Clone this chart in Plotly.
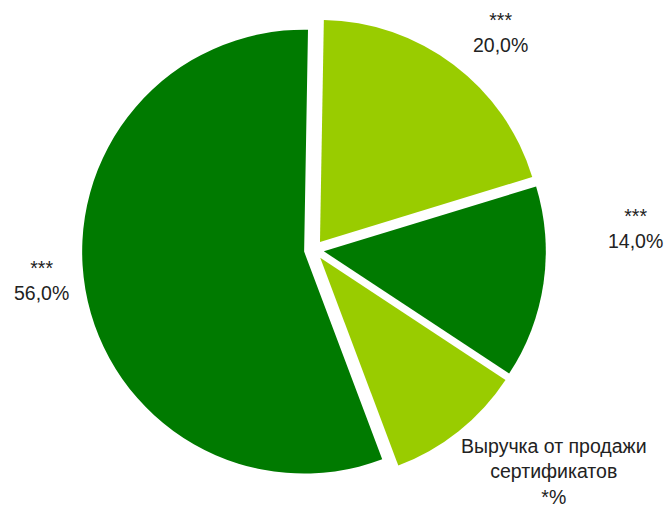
import plotly.graph_objects as go

# Revenue structure shares, clockwise from the top
labels = ["***", "***", "Выручка от продажи сертификатов", "***"]
values = [20.0, 14.0, 10.0, 56.0]
label_texts = ["***<br>20,0%", "***<br>14,0%",
               "Выручка от продажи<br>сертификатов<br>*%", "***<br>56,0%"]
colors = ["#99CC00", "#007A00", "#99CC00", "#007A00"]

fig = go.Figure()
fig.add_trace(go.Pie(
    labels=["a", "b", "c", "d"],
    values=values,
    sort=False,
    direction="clockwise",
    rotation=1,
    pull=[0.045] * len(values),
    marker=dict(colors=colors, line=dict(color="white", width=0)),
    textinfo="none",
    hoverinfo="skip",
    showlegend=False,
    domain=dict(x=[0.1226, 0.816], y=[0.055, 0.965]),
))

# label positions in pixel space (x, y from top)
label_pos = [(500, 33), (635, 229), (554, 471), (41, 280)]
W, H = 669, 510
for txt, (px, py) in zip(label_texts, label_pos):
    fig.add_annotation(
        x=px / W, y=1 - py / H, xref="paper", yref="paper",
        text=txt, showarrow=False, align="center",
        xanchor="center", yanchor="middle",
        font=dict(family="Liberation Sans, Arial, sans-serif", size=19.5, color="#222222"),
    )

fig.update_layout(
    width=W, height=H,
    margin=dict(l=0, r=0, t=0, b=0),
    paper_bgcolor="white", plot_bgcolor="white",
)
fig.write_html("out.html")
